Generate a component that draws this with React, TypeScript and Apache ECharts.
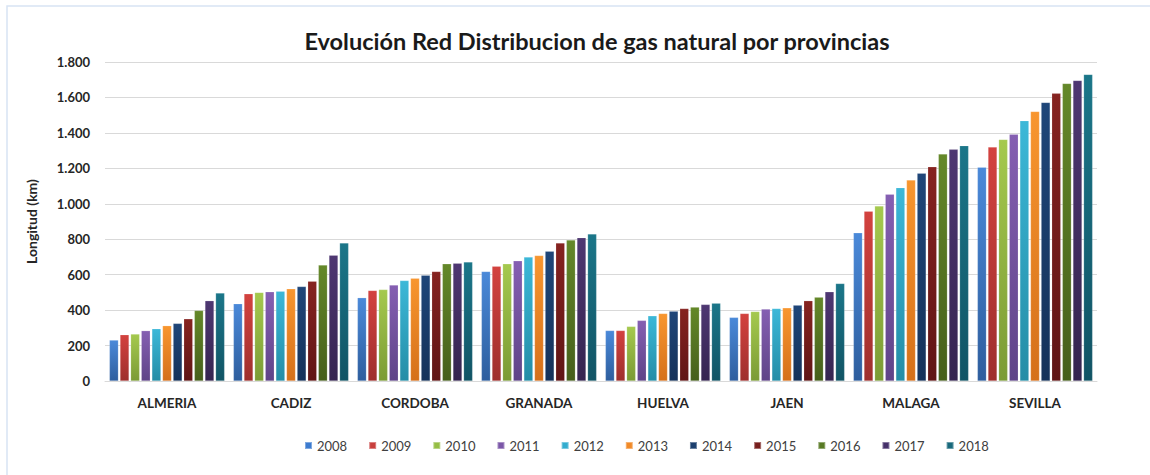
import React, { useEffect, useRef } from "react";
import * as echarts from "echarts";

const provinces = ["ALMERIA", "CADIZ", "CORDOBA", "GRANADA", "HUELVA", "JAEN", "MALAGA", "SEVILLA"];
const years = ["2008", "2009", "2010", "2011", "2012", "2013", "2014", "2015", "2016", "2017", "2018"];

// Longitud (km) per province, years 2008..2018
const almeria = [231, 261, 265, 284, 295, 312, 325, 351, 398, 453, 496];
const cadiz = [436, 492, 500, 503, 507, 520, 533, 563, 654, 710, 779];
const cordoba = [470, 511, 516, 541, 567, 580, 597, 618, 661, 665, 672];
const granada = [618, 648, 661, 678, 699, 708, 732, 779, 796, 809, 830];
const huelva = [285, 285, 308, 342, 368, 381, 394, 409, 417, 432, 439];
const jaen = [359, 381, 392, 406, 409, 413, 428, 453, 473, 503, 550];
const malaga = [836, 958, 988, 1054, 1091, 1134, 1172, 1209, 1281, 1307, 1328];
const sevilla = [1206, 1320, 1363, 1393, 1469, 1521, 1572, 1623, 1679, 1696, 1730];

const byProvince = [almeria, cadiz, cordoba, granada, huelva, jaen, malaga, sevilla];

const topColors = ["#4A89D9", "#D3423F", "#A5C94E", "#855FB2", "#3CB8D8", "#F8962F", "#1F4679", "#862320", "#648829", "#4E3772", "#1B7689"];
const bottomColors = ["#2E5E9E", "#9E2F2D", "#7B9B35", "#5F4488", "#248DA6", "#D5701A", "#15325A", "#601515", "#465F1B", "#352450", "#115465"];
const legendColors = ["#3D7BCF", "#C83F3D", "#96BE45", "#7B57A8", "#33ADCF", "#F18A28", "#1C3F6E", "#771F1D", "#587A25", "#46316A", "#19697C"];

const FONT = "Lato, 'Open Sans', sans-serif";

export default function App() {
  const ref = useRef<HTMLDivElement>(null);
  useEffect(() => {
    if (!ref.current) return;
    const chart = echarts.init(ref.current, null, { renderer: "svg" });
    const series = years.map((y, i) => ({
      name: y,
      type: "bar",
      barWidth: 9,
      barGap: "18%",
      data: byProvince.map((p) => p[i]),
      itemStyle: {
        color: new echarts.graphic.LinearGradient(0, 0, 0, 1, [
          { offset: 0, color: topColors[i] },
          { offset: 1, color: bottomColors[i] },
        ]),
        borderColor: "rgba(255,255,255,0.35)",
        borderWidth: 0.5,
      },
    }));
    chart.setOption({
      animation: false,
      backgroundColor: "#ffffff",
      color: legendColors,
      title: {
        text: "Evolución Red Distribucion de gas natural por provincias",
        left: 592,
        textAlign: "center",
        top: 24,
        textStyle: { fontFamily: FONT, fontWeight: "bold", fontSize: 23.5, color: "#1a1a1a" },
      },
      graphic: [
        {
          type: "rect",
          shape: { x: 7, y: 6, width: 1160, height: 490 },
          style: { fill: "none", stroke: "#D8E4F4", lineWidth: 1.5 },
          silent: true,
        },
      ],
      legend: {
        data: years.map((y, i) => ({ name: y, itemStyle: { color: legendColors[i] } })),
        left: 299,
        top: 434,
        itemWidth: 7,
        itemHeight: 7,
        itemGap: 21,
        icon: "rect",
        textStyle: { fontFamily: FONT, fontSize: 13, color: "#404040" },
      },
      grid: { left: 105, right: 53, top: 62, bottom: 94, containLabel: false },
      xAxis: {
        type: "category",
        data: provinces,
        axisLine: { lineStyle: { color: "#D9D9D9", width: 1 } },
        axisTick: { show: false },
        axisLabel: { fontFamily: FONT, fontWeight: "bold", fontSize: 13.5, color: "#262626", margin: 15 },
      },
      yAxis: {
        type: "value",
        min: 0,
        max: 1800,
        interval: 200,
        name: "Longitud (km)",
        nameLocation: "middle",
        nameGap: 67,
        nameTextStyle: { fontFamily: FONT, fontWeight: "bold", fontSize: 14, color: "#262626" },
        axisLine: { show: false },
        axisTick: { show: false },
        splitLine: { lineStyle: { color: "#D9D9D9", width: 1 } },
        axisLabel: {
          fontFamily: FONT,
          fontWeight: "bold",
          fontSize: 13,
          color: "#262626",
          margin: 15,
          formatter: (v: number) => String(v).replace(/\B(?=(\d{3})+(?!\d))/g, "."),
        },
      },
      series,
    });
    return () => chart.dispose();
  }, []);
  return (
    <div
      ref={ref}
      style={{ position: "fixed", left: 0, top: 0, width: 1150, height: 475, background: "#fff" }}
    />
  );
}
